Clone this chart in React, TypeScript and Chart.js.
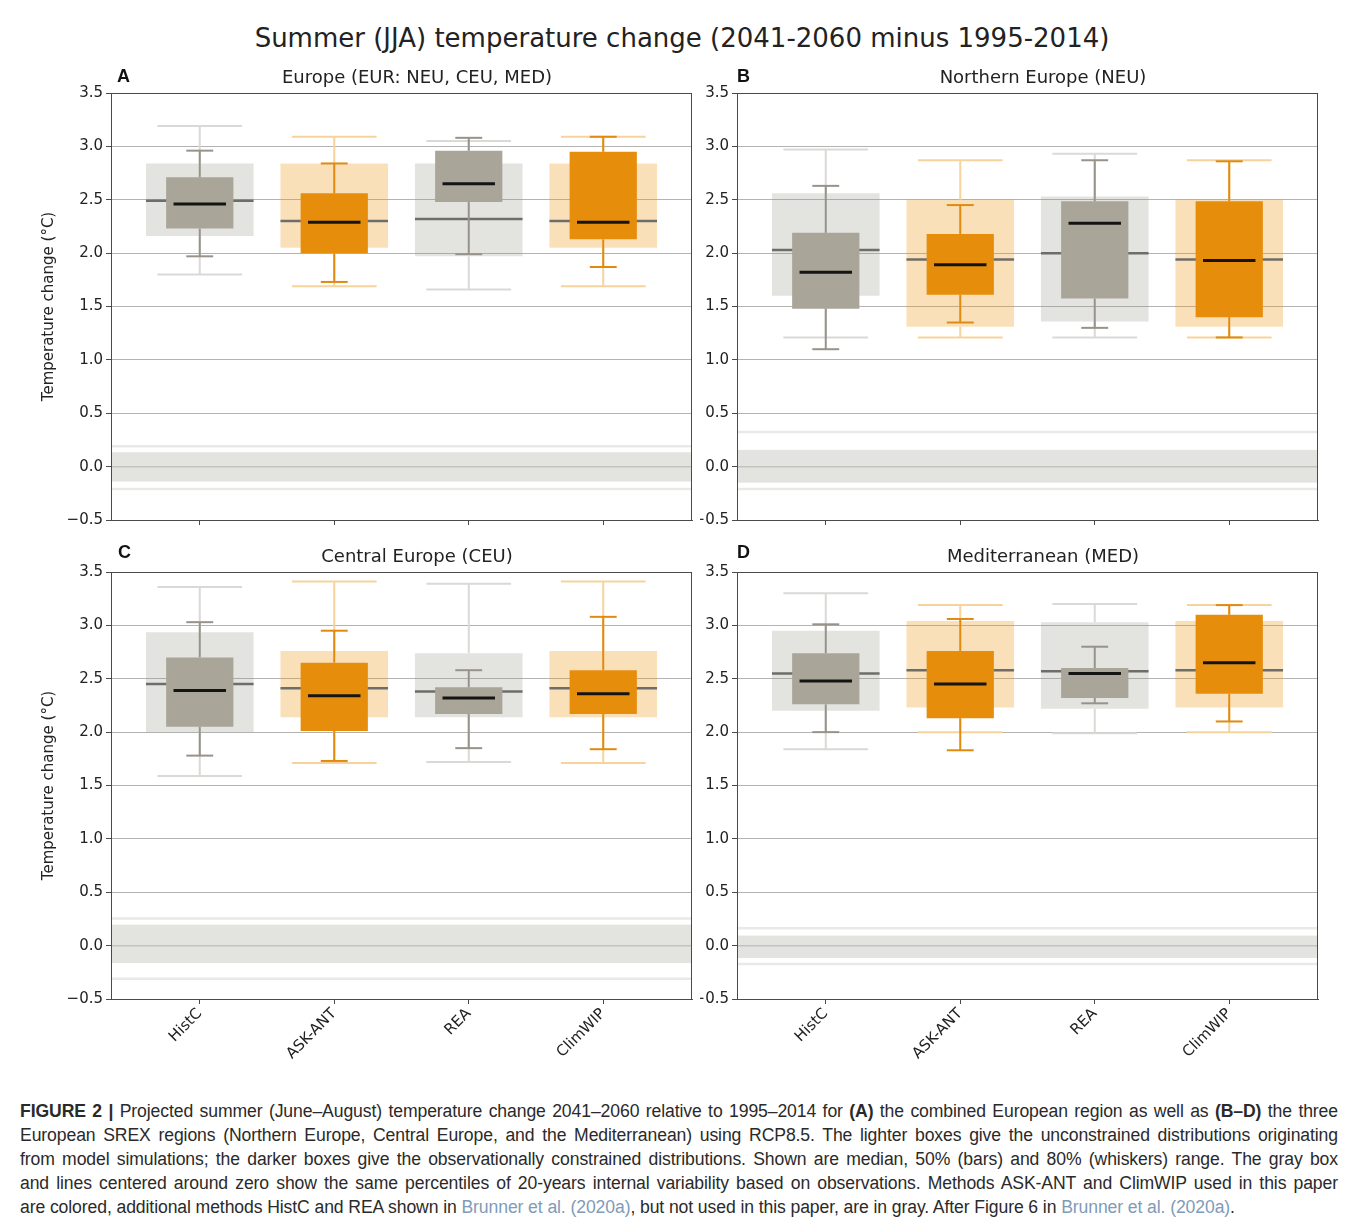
import React, { useEffect, useRef } from "react";
import { Chart, registerables } from "chart.js";

Chart.register(...registerables);

// ---------------- data ----------------
const methods = ["HistC", "ASK-ANT", "REA", "ClimWIP"];
const methodColored = [false, true, false, true];
const yTickValues = [-0.5, 0, 0.5, 1, 1.5, 2, 2.5, 3, 3.5];

// percentiles per method: [p10, p25, p50, p75, p90]
const eurUnconstrained = [
  [1.80, 2.16, 2.49, 2.84, 3.19],
  [1.69, 2.05, 2.30, 2.84, 3.09],
  [1.66, 1.97, 2.32, 2.84, 3.05],
  [1.69, 2.05, 2.30, 2.84, 3.09],
];
const eurConstrained = [
  [1.97, 2.23, 2.46, 2.71, 2.96],
  [1.73, 2.00, 2.29, 2.56, 2.84],
  [1.99, 2.48, 2.65, 2.96, 3.08],
  [1.87, 2.13, 2.29, 2.95, 3.09],
];
const eurVariability = [-0.21, -0.14, 0.0, 0.135, 0.19];

const neuUnconstrained = [
  [1.21, 1.60, 2.03, 2.56, 2.97],
  [1.21, 1.31, 1.94, 2.50, 2.87],
  [1.21, 1.36, 2.00, 2.53, 2.93],
  [1.21, 1.31, 1.94, 2.50, 2.87],
];
const neuConstrained = [
  [1.10, 1.48, 1.82, 2.19, 2.63],
  [1.35, 1.61, 1.89, 2.18, 2.45],
  [1.30, 1.575, 2.28, 2.485, 2.87],
  [1.21, 1.40, 1.93, 2.485, 2.86],
];
const neuVariability = [-0.21, -0.15, 0.0, 0.157, 0.325];

const ceuUnconstrained = [
  [1.59, 2.00, 2.45, 2.935, 3.36],
  [1.71, 2.14, 2.41, 2.76, 3.41],
  [1.72, 2.14, 2.38, 2.74, 3.39],
  [1.71, 2.14, 2.41, 2.76, 3.41],
];
const ceuConstrained = [
  [1.78, 2.05, 2.39, 2.70, 3.03],
  [1.73, 2.01, 2.34, 2.65, 2.95],
  [1.85, 2.17, 2.32, 2.42, 2.58],
  [1.84, 2.17, 2.36, 2.58, 3.08],
];
const ceuVariability = [-0.31, -0.163, 0.0, 0.197, 0.253];

const medUnconstrained = [
  [1.84, 2.20, 2.55, 2.95, 3.30],
  [2.00, 2.23, 2.58, 3.04, 3.19],
  [1.99, 2.22, 2.57, 3.03, 3.20],
  [2.00, 2.23, 2.58, 3.04, 3.19],
];
const medConstrained = [
  [2.00, 2.26, 2.48, 2.74, 3.01],
  [1.83, 2.13, 2.45, 2.76, 3.06],
  [2.27, 2.32, 2.55, 2.60, 2.80],
  [2.10, 2.36, 2.65, 3.10, 3.19],
];
const medVariability = [-0.172, -0.116, 0.0, 0.094, 0.163];

const figureTitle = "Summer (JJA) temperature change (2041-2060 minus 1995-2014)";
const yAxisTitle = "Temperature change (°C)";

// ---------------- styles ----------------
const LIGHT_GRAY = "rgba(150,150,140,0.27)";
const LIGHT_ORANGE = "rgba(238,152,22,0.30)";
const DARK_GRAY = "#a9a598";
const DARK_ORANGE = "#e68e0c";
const LIGHT_WHISKER_GRAY = "#d9d9d6";
const LIGHT_WHISKER_ORANGE = "#f6d39c";
const DARK_WHISKER_GRAY = "#97938a";
const DARK_WHISKER_ORANGE = "#e08a10";
const AXIS_COLOR = "#4a4a4a";
const FONT = "'DejaVu Sans', sans-serif";
const TICK_SIZE = 15;

const P = (v: number) => v - 8; // page coordinate -> wrapper coordinate

type PanelProps = {
  letter: string;
  title: string;
  unconstrained: number[][];
  constrained: number[][];
  variability: number[];
  left: number;
  top: number;
  width: number;
  height: number;
  axisWidth: number;
  padRight: number;
  xAxisHeight: number;
  showYTitle: boolean;
  showXLabels: boolean;
  titleX: number;
  titleY: number;
  letterX: number;
  letterY: number;
};

function hline(ctx: CanvasRenderingContext2D, x1: number, x2: number, y: number, color: string, w: number) {
  ctx.beginPath();
  ctx.strokeStyle = color;
  ctx.lineWidth = w;
  ctx.moveTo(x1, y);
  ctx.lineTo(x2, y);
  ctx.stroke();
}
function vline(ctx: CanvasRenderingContext2D, x: number, y1: number, y2: number, color: string, w: number) {
  ctx.beginPath();
  ctx.strokeStyle = color;
  ctx.lineWidth = w;
  ctx.moveTo(x, y1);
  ctx.lineTo(x, y2);
  ctx.stroke();
}

function Panel(props: PanelProps) {
  const ref = useRef<HTMLCanvasElement | null>(null);
  const {
    unconstrained, constrained, variability, width, height, axisWidth, padRight,
    xAxisHeight, showYTitle, showXLabels,
  } = props;

  useEffect(() => {
    if (!ref.current) return;
    const extras = {
      id: "boxExtras",
      beforeDatasetsDraw(chart: any) {
        const { ctx, chartArea: a, scales } = chart;
        const y = scales.y;
        ctx.save();
        const yT = y.getPixelForValue(variability[3]);
        const yB = y.getPixelForValue(variability[1]);
        ctx.fillStyle = "#e3e3e0";
        ctx.fillRect(a.left + 1, yT, a.right - a.left - 1, yB - yT);
        hline(ctx, a.left + 1, a.right, y.getPixelForValue(variability[2]), "#c4c4bf", 1.5);
        hline(ctx, a.left + 1, a.right, y.getPixelForValue(variability[0]), "#e9e9e7", 2.5);
        hline(ctx, a.left + 1, a.right, y.getPixelForValue(variability[4]), "#e9e9e7", 2.5);
        ctx.restore();
      },
      afterDatasetDraw(chart: any, args: any) {
        const { ctx, scales } = chart;
        const x = scales.x;
        const y = scales.y;
        const isLight = args.index === 0;
        const sets = isLight ? unconstrained : constrained;
        const unit = x.getPixelForValue(1) - x.getPixelForValue(0);
        ctx.save();
        ctx.lineCap = "butt";
        sets.forEach((p, i) => {
          const cx = x.getPixelForValue(i);
          const colored = methodColored[i];
          const wc = isLight
            ? colored ? LIGHT_WHISKER_ORANGE : LIGHT_WHISKER_GRAY
            : colored ? DARK_WHISKER_ORANGE : DARK_WHISKER_GRAY;
          const capHalf = unit * (isLight ? 0.315 : 0.1);
          const lw = 2;
          vline(ctx, cx, y.getPixelForValue(p[3]), y.getPixelForValue(p[4]), wc, lw);
          vline(ctx, cx, y.getPixelForValue(p[1]), y.getPixelForValue(p[0]), wc, lw);
          hline(ctx, cx - capHalf, cx + capHalf, y.getPixelForValue(p[4]), wc, lw);
          hline(ctx, cx - capHalf, cx + capHalf, y.getPixelForValue(p[0]), wc, lw);
          const medHalf = unit * (isLight ? 0.4 : 0.195);
          hline(
            ctx, cx - medHalf, cx + medHalf, y.getPixelForValue(p[2]),
            isLight ? "#6d6d69" : "#141414", isLight ? 2.5 : 3
          );
        });
        ctx.restore();
      },
      afterDraw(chart: any) {
        const { ctx, chartArea: a } = chart;
        ctx.save();
        ctx.strokeStyle = AXIS_COLOR;
        ctx.lineWidth = 1;
        ctx.strokeRect(Math.round(a.left) + 0.5, Math.round(a.top) + 0.5,
          Math.round(a.right - a.left) - 1, Math.round(a.bottom - a.top));
        ctx.restore();
      },
    };

    const chart = new Chart(ref.current, {
      type: "bar",
      data: {
        datasets: [
          {
            data: unconstrained.map((p, i) => ({ x: i, y: [p[1], p[3]] })),
            backgroundColor: methodColored.map((c) => (c ? LIGHT_ORANGE : LIGHT_GRAY)),
            barPercentage: 0.8,
            categoryPercentage: 1,
            grouped: false,
            order: 2,
            borderWidth: 0,
            borderSkipped: false,
          } as any,
          {
            data: constrained.map((p, i) => ({ x: i, y: [p[1], p[3]] })),
            backgroundColor: methodColored.map((c) => (c ? DARK_ORANGE : DARK_GRAY)),
            barPercentage: 0.5,
            categoryPercentage: 1,
            grouped: false,
            order: 1,
            borderWidth: 0,
            borderSkipped: false,
          } as any,
        ],
      },
      options: {
        animation: false,
        responsive: false,
        maintainAspectRatio: false,
        events: [],
        layout: { padding: { top: 35, right: padRight, bottom: 0, left: 0 } },
        plugins: {
          legend: { display: false },
          tooltip: { enabled: false },
          title: { display: false },
        },
        scales: {
          x: {
            type: "linear",
            offset: false,
            min: -0.66,
            max: 3.66,
            afterBuildTicks: (s: any) => {
              s.ticks = methods.map((_, i) => ({ value: i }));
            },
            afterFit: (s: any) => {
              s.height = xAxisHeight;
            },
            ticks: {
              autoSkip: false,
              minRotation: 45,
              maxRotation: 45,
              padding: 1,
              color: "#222",
              font: { family: FONT, size: TICK_SIZE },
              callback: (v: any) => (showXLabels ? methods[Math.round(v)] ?? "" : ""),
            },
            grid: {
              offset: false,
              drawOnChartArea: false,
              drawTicks: true,
              tickLength: 5,
              tickColor: AXIS_COLOR,
            },
            border: { display: true, color: AXIS_COLOR, width: 1 },
          },
          y: {
            type: "linear",
            min: -0.5,
            max: 3.5,
            afterBuildTicks: (s: any) => {
              s.ticks = yTickValues.map((v) => ({ value: v }));
            },
            afterFit: (s: any) => {
              s.width = axisWidth;
            },
            ticks: {
              padding: 3,
              color: "#222",
              font: { family: FONT, size: TICK_SIZE },
              callback: (v: any) => {
                const n = Number(v);
                const s = Math.abs(n).toFixed(1);
                return n < 0 ? "\u2212" + s : s;
              },
            },
            grid: {
              color: "#b3b3b3",
              lineWidth: 1,
              drawTicks: true,
              tickLength: 5,
              tickColor: AXIS_COLOR,
            },
            border: { display: true, color: AXIS_COLOR, width: 1 },
            title: {
              display: showYTitle,
              text: yAxisTitle,
              color: "#222",
              font: { family: FONT, size: TICK_SIZE },
              padding: { top: 4, bottom: 4 },
            },
          },
        },
      } as any,
      plugins: [extras as any],
    });
    return () => chart.destroy();
  }, []);

  return (
    <>
      <canvas
        ref={ref}
        width={width}
        height={height}
        style={{ position: "absolute", left: P(props.left), top: P(props.top), width, height }}
      />
      <div
        style={{
          position: "absolute",
          left: P(props.titleX) - 300,
          width: 600,
          top: P(props.titleY) - 11,
          lineHeight: "22px",
          fontSize: 18,
          fontFamily: FONT,
          color: "#222",
          textAlign: "center",
          whiteSpace: "nowrap",
        }}
      >
        {props.title}
      </div>
      <div
        style={{
          position: "absolute",
          left: P(props.letterX),
          top: P(props.letterY) - 10,
          lineHeight: "20px",
          fontSize: 18,
          fontWeight: "bold",
          fontFamily: "'Liberation Sans', Arial, sans-serif",
          color: "#111",
        }}
      >
        {props.letter}
      </div>
    </>
  );
}

const LINK = "#7f9bb8";
const captionStyle = (k: number, last: boolean): React.CSSProperties => ({
  position: "absolute",
  left: P(20),
  width: 1318,
  top: P(1111) - 12 + k * 24,
  lineHeight: "24px",
  fontSize: 17.6,
  letterSpacing: "-0.1px",
  fontFamily: "'Liberation Sans', Arial, sans-serif",
  color: "#2a2a2a",
  textAlign: last ? "left" : "justify",
  textAlignLast: last ? "left" : "justify",
} as any);

export default function App() {
  return (
    <div style={{ position: "relative", width: 1342, height: 1217, fontFamily: FONT }}>
      <div
        style={{
          position: "absolute",
          left: -1,
          top: -1,
          width: 1345,
          height: 1219,
          border: "1px solid #a0a0a0",
          boxSizing: "border-box",
        }}
      />
      <div
        style={{
          position: "absolute",
          left: P(682) - 600,
          width: 1200,
          top: P(38) - 15,
          lineHeight: "30px",
          fontSize: 26,
          fontFamily: FONT,
          color: "#222",
          textAlign: "center",
          whiteSpace: "nowrap",
        }}
      >
        {figureTitle}
      </div>

      <Panel letter="A" title="Europe (EUR: NEU, CEU, MED)"
        unconstrained={eurUnconstrained} constrained={eurConstrained} variability={eurVariability}
        left={36} top={58} width={664} height={477} axisWidth={75} padRight={8} xAxisHeight={15}
        showYTitle={true} showXLabels={false} titleX={417} titleY={77} letterX={117} letterY={76} />
      <Panel letter="B" title="Northern Europe (NEU)"
        unconstrained={neuUnconstrained} constrained={neuConstrained} variability={neuVariability}
        left={700} top={58} width={628} height={477} axisWidth={37} padRight={10} xAxisHeight={15}
        showYTitle={false} showXLabels={false} titleX={1043} titleY={77} letterX={737} letterY={76} />
      <Panel letter="C" title="Central Europe (CEU)"
        unconstrained={ceuUnconstrained} constrained={ceuConstrained} variability={ceuVariability}
        left={36} top={537} width={664} height={543} axisWidth={75} padRight={8} xAxisHeight={81}
        showYTitle={true} showXLabels={true} titleX={417} titleY={556} letterX={118} letterY={552} />
      <Panel letter="D" title="Mediterranean (MED)"
        unconstrained={medUnconstrained} constrained={medConstrained} variability={medVariability}
        left={700} top={537} width={628} height={543} axisWidth={37} padRight={10} xAxisHeight={81}
        showYTitle={false} showXLabels={true} titleX={1043} titleY={556} letterX={737} letterY={552} />

      <div style={captionStyle(0, false)}>
        <b>FIGURE 2 |</b> Projected summer (June–August) temperature change 2041–2060 relative to 1995–2014 for <b>(A)</b> the combined European region as well as <b>(B–D)</b> the three
      </div>
      <div style={captionStyle(1, false)}>
        European SREX regions (Northern Europe, Central Europe, and the Mediterranean) using RCP8.5. The lighter boxes give the unconstrained distributions originating
      </div>
      <div style={captionStyle(2, false)}>
        from model simulations; the darker boxes give the observationally constrained distributions. Shown are median, 50% (bars) and 80% (whiskers) range. The gray box
      </div>
      <div style={captionStyle(3, false)}>
        and lines centered around zero show the same percentiles of 20-years internal variability based on observations. Methods ASK-ANT and ClimWIP used in this paper
      </div>
      <div style={captionStyle(4, true)}>
        are colored, additional methods HistC and REA shown in <span style={{ color: LINK }}>Brunner et al. (2020a)</span>, but not used in this paper, are in gray. After Figure 6 in <span style={{ color: LINK }}>Brunner et al. (2020a)</span>.
      </div>
    </div>
  );
}
